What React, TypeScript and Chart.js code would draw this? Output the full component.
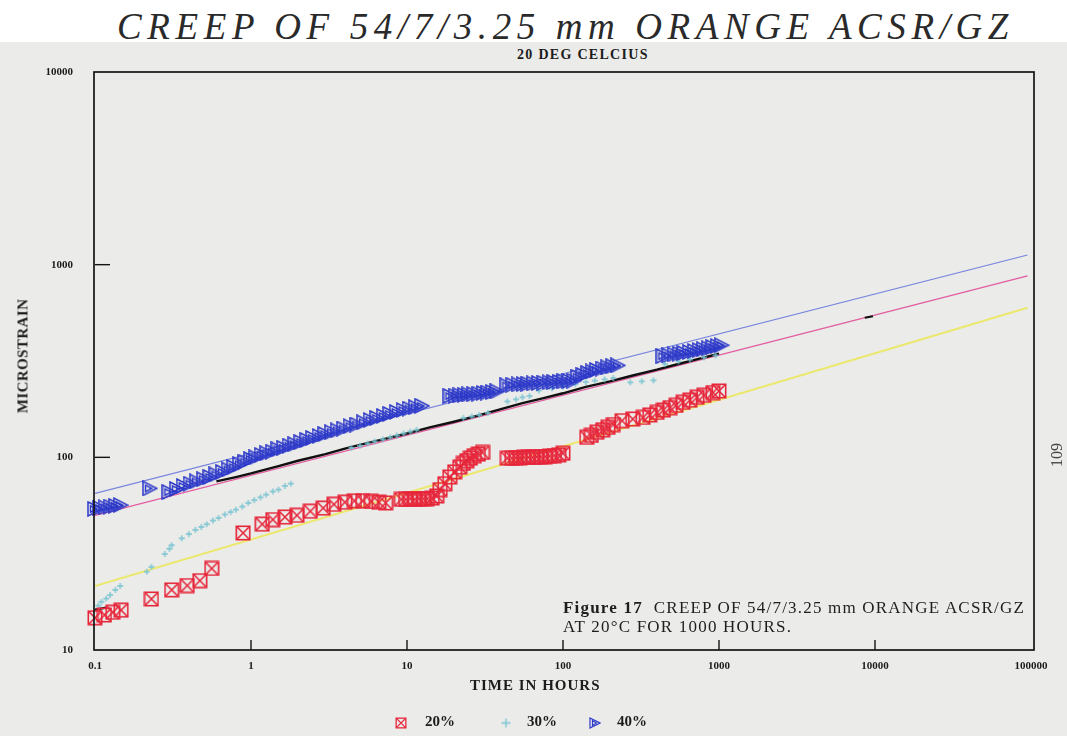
import React, { useEffect, useRef } from "react";
import { Chart, registerables } from "chart.js";

Chart.register(...registerables);

// Axis ticks (log decades)
const X_TICKS = [0.1, 1, 10, 100, 1000, 10000, 100000];
const Y_TICKS = [10, 100, 1000, 10000];

// Fitted creep lines: [hours, microstrain] at both ends
const FIT_HOURS = [0.1, 95000];
const FIT_40 = [65, 1122];
const FIT_30 = [50, 875];
const FIT_20 = [21.5, 598];

// 20% load — measured creep (hours, microstrain)
const CREEP_20: [number, number][] = [
  [0.1, 14.7], [0.115, 15.2], [0.13, 15.7], [0.147, 16.1], [0.23, 18.4],
  [0.31, 20.5], [0.39, 21.6], [0.47, 22.9], [0.56, 26.5], [0.89, 40.5],
  [1.18, 45], [1.38, 47.5], [1.65, 49], [1.97, 50], [2.4, 52.5], [2.9, 54.5],
  [3.4, 57], [4.0, 58.5], [4.6, 59.5], [5.2, 59.5], [5.9, 59], [6.6, 58.5],
  [7.3, 58], [9.2, 60.5], [9.8, 60.5], [10.5, 61], [11.2, 60.5], [12, 61],
  [12.8, 61], [13.5, 61], [14.5, 61.5], [15.5, 63], [16.3, 68], [17.5, 73],
  [18.8, 79], [20.2, 84], [21.8, 89], [23, 93], [24.2, 96], [25.5, 99],
  [27, 102], [28.7, 104], [30.5, 106],
  [44, 99], [47, 99], [50, 99.5], [53, 99.5], [56, 100], [60, 100], [64, 100],
  [68, 100.5], [72, 100.5], [77, 101], [82, 101.5], [88, 102], [94, 103], [100, 105],
  [142, 127], [152, 130], [165, 135], [180, 139], [194, 143], [210, 148],
  [239, 155], [280, 158], [326, 161], [360, 166], [401, 171], [440, 176],
  [486, 181], [530, 186], [588, 193], [650, 198], [723, 205], [800, 210],
  [916, 217], [1000, 221],
];

// 30% load — measured creep
const CREEP_30: [number, number][] = [
  [0.105, 17], [0.11, 17.8], [0.118, 18.5], [0.125, 19.3], [0.135, 20.5], [0.145, 21.5],
  [0.215, 25.5], [0.23, 27], [0.28, 31.5], [0.3, 33.5], [0.31, 35], [0.36, 38],
  [0.4, 40], [0.44, 42], [0.48, 43.5], [0.52, 45], [0.57, 47], [0.62, 48.5],
  [0.68, 50.5], [0.74, 52], [0.8, 53.5], [0.88, 55.5], [0.96, 58], [1.05, 60],
  [1.15, 62], [1.25, 64], [1.38, 66.5], [1.5, 68], [1.65, 71], [1.8, 73],
  [4.4, 112], [5, 115], [5.6, 118], [6.2, 121], [7, 124], [7.8, 127], [8.6, 130],
  [9.5, 133], [10.5, 136], [11.5, 139],
  [23, 160], [26, 163], [29, 166], [33, 170], [44, 195], [50, 200], [55, 205],
  [61, 208], [70, 222], [85, 228], [100, 233], [120, 240], [140, 246], [160, 250],
  [185, 254], [210, 258], [270, 245], [320, 248], [380, 251],
  [450, 305], [550, 315], [650, 322], [800, 330], [950, 338],
];

// 30% load — dense recorder trace
const TRACE_30: [number, number][] = [
  [0.6, 75], [0.8, 79], [1, 82.5], [1.5, 90], [2, 96], [3, 104], [4, 111],
  [5, 116], [7, 124], [10, 133], [14, 143], [20, 153], [28, 164], [40, 178],
  [55, 191], [75, 203], [100, 215], [140, 232], [200, 248], [280, 266],
  [400, 285], [550, 305], [750, 325], [1000, 345],
];
const TRACE_30_START: [number, number][] = [[0.1, 16.2], [0.118, 16.6]];
const TRACE_30_MARK: [number, number][] = [[8600, 530], [9700, 540]];

// 40% load — measured creep
const CREEP_40: [number, number][] = [
  [0.1, 54], [0.108, 54.5], [0.117, 55], [0.126, 55.5], [0.136, 56], [0.146, 56.5],
  [0.225, 69],
  [0.3, 66], [0.335, 68.5], [0.37, 71], [0.41, 73], [0.45, 75], [0.5, 77],
  [0.55, 79], [0.6, 81.5], [0.66, 84], [0.72, 86.5], [0.78, 89], [0.85, 92],
  [0.92, 95], [1.0, 98], [1.08, 100], [1.17, 103], [1.27, 105], [1.38, 107],
  [1.5, 110], [1.63, 112], [1.77, 115], [1.92, 117], [2.1, 120], [2.3, 123],
  [2.5, 126], [2.75, 129], [3.0, 132], [3.3, 135], [3.6, 138], [3.95, 141],
  [4.35, 145], [4.8, 148], [5.3, 152], [5.85, 156], [6.45, 160], [7.1, 164],
  [7.8, 168], [8.6, 172], [9.5, 176], [10.4, 179], [11.4, 182], [12.5, 185],
  [19, 208], [20.5, 209], [22, 210], [23.5, 211], [25, 212], [27, 213], [29, 214],
  [31, 216], [33, 217], [35.5, 218], [38, 220],
  [44, 236], [48, 238], [52, 239], [56, 240], [60, 241], [65, 242], [70, 243],
  [76, 244], [82, 245], [88, 246], [95, 247], [102, 248], [110, 249], [118, 250],
  [125, 262], [135, 268], [145, 274], [155, 279], [165, 284], [180, 289],
  [195, 293], [210, 297], [225, 300],
  [440, 335], [480, 338], [520, 342], [560, 345], [600, 348], [650, 352],
  [700, 356], [750, 360], [800, 364], [860, 368], [920, 373], [980, 378], [1040, 382],
];

const LEGEND_LABELS = ["20%", "30%", "40%"];

const RED = "rgb(230,38,58)";
const CYAN = "rgb(120,196,210)";
const BLUE = "rgb(44,56,200)";

const toPoints = (pts: [number, number][]) => pts.map(([x, y]) => ({ x, y }));
const fitPoints = (vals: number[]) => FIT_HOURS.map((x, i) => ({ x, y: vals[i] }));

function crossedSquare(size: number, color: string, lw: number) {
  const c = document.createElement("canvas");
  c.width = size;
  c.height = size;
  const g = c.getContext("2d")!;
  g.strokeStyle = color;
  g.lineWidth = lw;
  const p = lw / 2 + 0.5;
  g.strokeRect(p, p, size - 2 * p, size - 2 * p);
  g.beginPath();
  g.moveTo(p, p);
  g.lineTo(size - p, size - p);
  g.moveTo(size - p, p);
  g.lineTo(p, size - p);
  g.stroke();
  return c;
}

function rightTriangle(w: number, h: number, color: string, lw: number) {
  const c = document.createElement("canvas");
  c.width = w;
  c.height = h;
  const g = c.getContext("2d")!;
  g.strokeStyle = color;
  g.lineWidth = lw;
  g.lineJoin = "miter";
  g.beginPath();
  g.moveTo(1, 1);
  g.lineTo(w - 1, h / 2);
  g.lineTo(1, h - 1);
  g.closePath();
  g.stroke();
  g.beginPath();
  g.moveTo(3.5, h * 0.3);
  g.lineTo(w * 0.62, h / 2);
  g.lineTo(3.5, h * 0.7);
  g.closePath();
  g.stroke();
  return c;
}

function plusMark(size: number, color: string, lw: number) {
  const c = document.createElement("canvas");
  c.width = size;
  c.height = size;
  const g = c.getContext("2d")!;
  g.strokeStyle = color;
  g.lineWidth = lw;
  g.beginPath();
  g.moveTo(size / 2, 1);
  g.lineTo(size / 2, size - 1);
  g.moveTo(1, size / 2);
  g.lineTo(size - 1, size / 2);
  g.stroke();
  return c;
}

export default function App() {
  const canvasRef = useRef<HTMLCanvasElement | null>(null);

  useEffect(() => {
    const canvas = canvasRef.current;
    if (!canvas) return;

    const sq = crossedSquare(16, RED, 1.6);
    const tri = rightTriangle(16, 16, BLUE, 1.5);
    const plus = plusMark(8, CYAN, 1.3);
    const sqLegend = crossedSquare(12, RED, 1.3);
    const triLegend = rightTriangle(12, 12, BLUE, 1.2);
    const plusLegend = plusMark(11, CYAN, 1.3);

    const framePlugin = {
      id: "frameAndLegend",
      afterDatasetsDraw(chart: any) {
        const { ctx, chartArea: a, scales } = chart;
        ctx.save();
        ctx.strokeStyle = "#141414";
        ctx.lineWidth = 1.7;
        ctx.strokeRect(a.left - 1, a.top, a.right - a.left + 4, a.bottom - a.top);
        ctx.lineWidth = 1.4;
        X_TICKS.slice(1, -1).forEach((v) => {
          const x = scales.x.getPixelForValue(v);
          ctx.beginPath();
          ctx.moveTo(x, a.bottom);
          ctx.lineTo(x, a.bottom - 10);
          ctx.stroke();
        });
        Y_TICKS.slice(1, -1).forEach((v) => {
          const y = scales.y.getPixelForValue(v);
          ctx.beginPath();
          ctx.moveTo(a.left, y);
          ctx.lineTo(a.left + 15, y);
          ctx.stroke();
        });
        ctx.restore();
      },
      afterDraw(chart: any) {
        const { ctx } = chart;
        ctx.save();
        const y = 722;
        const marks = [sqLegend, plusLegend, triLegend];
        const markX = [401, 506, 595];
        const textX = [425, 527, 617];
        ctx.font = "bold 15px 'Liberation Serif'";
        ctx.fillStyle = "#1c1c1c";
        ctx.textBaseline = "middle";
        marks.forEach((m, i) => {
          ctx.drawImage(m, markX[i] - m.width / 2, y - m.height / 2 + 1);
          ctx.fillText(LEGEND_LABELS[i], textX[i], y);
        });
        ctx.restore();
      },
    };

    const chart = new Chart(canvas, {
      type: "scatter",
      data: {
        datasets: [
          {
            label: "40%",
            data: toPoints(CREEP_40),
            pointStyle: tri as any,
            pointRadius: 8,
            clip: false as any,
            order: 0,
          },
          {
            label: "20%",
            data: toPoints(CREEP_20),
            pointStyle: sq as any,
            pointRadius: 8,
            clip: false as any,
            order: 1,
          },
          {
            label: "30%",
            data: toPoints(CREEP_30),
            pointStyle: plus as any,
            pointRadius: 4,
            clip: false as any,
            order: 2,
          },
          {
            label: "trace",
            data: toPoints(TRACE_30),
            showLine: true,
            borderColor: "#101010",
            borderWidth: 2.4,
            pointRadius: 0,
            order: 3,
          },
          {
            label: "trace start",
            data: toPoints(TRACE_30_START),
            showLine: true,
            borderColor: "#101010",
            borderWidth: 2.2,
            pointRadius: 0,
            order: 3,
          },
          {
            label: "trace mark",
            data: toPoints(TRACE_30_MARK),
            showLine: true,
            borderColor: "#101010",
            borderWidth: 2.2,
            pointRadius: 0,
            order: 3,
          },
          {
            label: "fit 40%",
            data: fitPoints(FIT_40),
            showLine: true,
            borderColor: "rgb(118,132,222)",
            borderWidth: 1.2,
            pointRadius: 0,
            order: 4,
          },
          {
            label: "fit 30%",
            data: fitPoints(FIT_30),
            showLine: true,
            borderColor: "rgb(226,92,160)",
            borderWidth: 1.2,
            pointRadius: 0,
            order: 5,
          },
          {
            label: "fit 20%",
            data: fitPoints(FIT_20),
            showLine: true,
            borderColor: "rgb(236,232,110)",
            borderWidth: 2,
            pointRadius: 0,
            order: 6,
          },
        ],
      },
      options: {
        animation: false,
        responsive: false,
        devicePixelRatio: 1,
        layout: { padding: { left: 0, top: 72, right: 36, bottom: 0 } },
        plugins: {
          legend: { display: false },
          tooltip: { enabled: false },
          title: { display: false },
        },
        scales: {
          x: {
            type: "logarithmic",
            min: 0.1,
            max: 100000,
            afterBuildTicks: (s: any) => {
              s.ticks = X_TICKS.map((value) => ({ value }));
            },
            afterFit: (s: any) => {
              s.height = 86;
            },
            grid: { display: false, drawTicks: false },
            border: { display: false },
            ticks: {
              padding: 10,
              maxRotation: 0,
              autoSkip: false,
              color: "#1c1c1c",
              font: { family: "'Liberation Serif'", size: 11, weight: "bold" },
              callback: (v: any) => String(v),
            },
          },
          y: {
            type: "logarithmic",
            min: 10,
            max: 10000,
            afterBuildTicks: (s: any) => {
              s.ticks = Y_TICKS.map((value) => ({ value }));
            },
            afterFit: (s: any) => {
              s.width = 95;
            },
            grid: { display: false, drawTicks: false },
            border: { display: false },
            ticks: {
              padding: 22,
              autoSkip: false,
              color: "#1c1c1c",
              font: { family: "'Liberation Serif'", size: 11, weight: "bold" },
              callback: (v: any) => String(v),
            },
          },
        },
      },
      plugins: [framePlugin],
    } as any);

    return () => chart.destroy();
  }, []);

  const serif = "'Liberation Serif', serif";

  return (
    <div
      style={{
        position: "fixed",
        left: 0,
        top: 0,
        width: 1067,
        height: 736,
        background: "#ffffff",
        overflow: "hidden",
      }}
    >
      <div
        style={{
          position: "absolute",
          left: 0,
          top: 42,
          width: 1067,
          height: 694,
          background: "#ebebe9",
        }}
      />
      <div
        style={{
          position: "absolute",
          left: 117,
          top: 7,
          whiteSpace: "nowrap",
          fontFamily: serif,
          fontStyle: "italic",
          fontSize: 37,
          letterSpacing: 5.6,
          color: "#2a2a2a",
          lineHeight: "40px",
        }}
      >
        CREEP OF 54/7/3.25 mm ORANGE ACSR/GZ
      </div>
      <div
        style={{
          position: "absolute",
          left: 517,
          top: 47,
          whiteSpace: "nowrap",
          fontFamily: serif,
          fontWeight: "bold",
          fontSize: 14,
          letterSpacing: 1.3,
          color: "#1c1c1c",
          lineHeight: "16px",
        }}
      >
        20 DEG CELCIUS
      </div>
      <canvas
        ref={canvasRef}
        width={1067}
        height={736}
        style={{ position: "absolute", left: 0, top: 0, width: 1067, height: 736 }}
      />
      <div
        style={{
          position: "absolute",
          left: 23,
          top: 356,
          transform: "translate(-50%, -50%) rotate(-90deg)",
          whiteSpace: "nowrap",
          fontFamily: serif,
          fontWeight: "bold",
          fontSize: 15,
          letterSpacing: 0.4,
          color: "#1c1c1c",
        }}
      >
        MICROSTRAIN
      </div>
      <div
        style={{
          position: "absolute",
          left: 470,
          top: 676,
          whiteSpace: "nowrap",
          fontFamily: serif,
          fontWeight: "bold",
          fontSize: 15,
          letterSpacing: 1,
          color: "#1c1c1c",
          lineHeight: "18px",
        }}
      >
        TIME IN HOURS
      </div>
      <div
        style={{
          position: "absolute",
          left: 563,
          top: 598,
          whiteSpace: "nowrap",
          fontFamily: serif,
          fontSize: 17,
          letterSpacing: 1.2,
          color: "#1e1e1e",
          lineHeight: "19px",
        }}
      >
        <div>
          <b>Figure 17</b>&nbsp; CREEP OF 54/7/3.25 mm ORANGE ACSR/GZ
        </div>
        <div>AT 20°C FOR 1000 HOURS.</div>
      </div>
      <div
        style={{
          position: "absolute",
          left: 1057,
          top: 455,
          transform: "translate(-50%, -50%) rotate(-90deg)",
          whiteSpace: "nowrap",
          fontFamily: serif,
          fontSize: 16,
          color: "#444",
        }}
      >
        109
      </div>
    </div>
  );
}
